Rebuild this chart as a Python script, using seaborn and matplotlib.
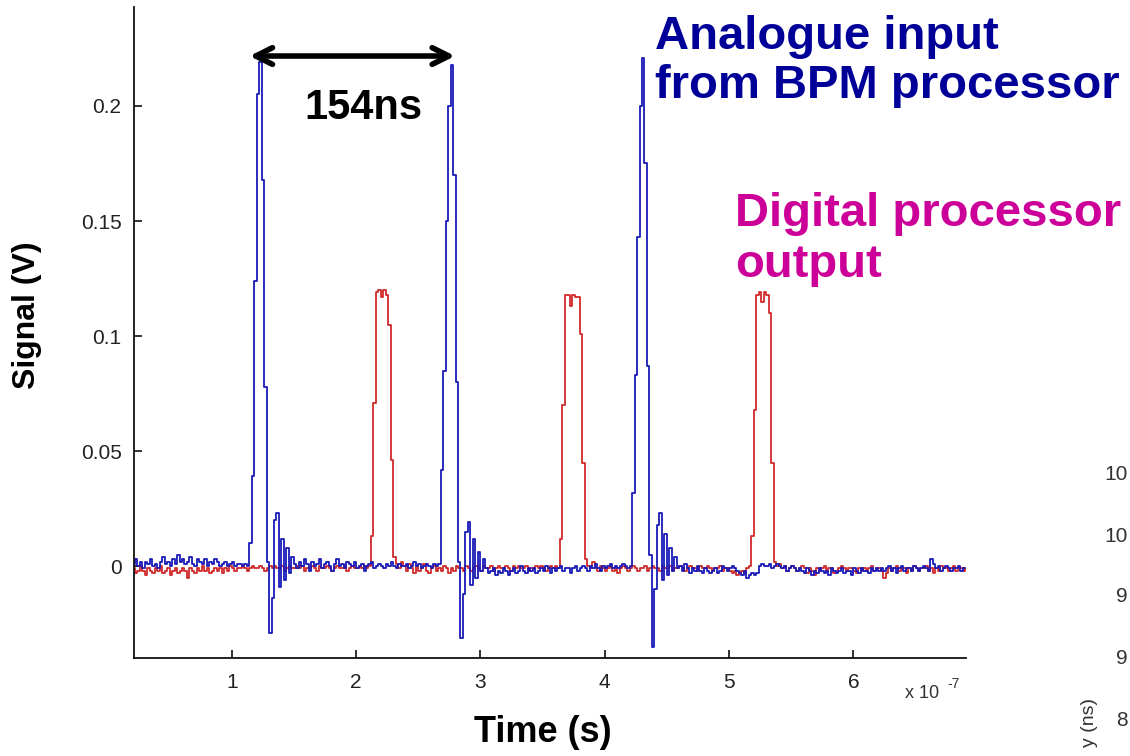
import numpy as np
import pandas as pd
import matplotlib
matplotlib.use("Agg")
import matplotlib.pyplot as plt
from matplotlib.ticker import FuncFormatter
import seaborn as sns


# ── Data ─────────────────────────────────────────────────────────────────────
# every trace is sampled every 2 ns; each segment = (start time in ns, values in mV)
SAMPLE_NS = 2

blue_base_a = [1, 3, 0, 2, -1, 2, 1, 3, 0, 1, -1, 2, 4, 1, 2, 0, 3, 1, 5, 2,
               3, 1, 2, 4, 1, 0, 3, 2, 1, 3, 0, 2, 1, 3, 2, 0, 1, 2, 0, 1,
               2, 0, 1, 1, 0, 1, 0]
blue_pulse_1 = [10, 39, 124, 205, 219, 168, 78, 2, -29, -14, 20, 23, -9, 12, -6, 8, -3, 4]
blue_base_b = [1, -1, 2, 0, 3, 1, -2, 2, 0, 1, 3, -1, 1, 2, 0, -2, 1, 3, 0, 1,
               -1, 2, 1, 0, 2, -1, 0, 1, -2, 0, 1, 2, -1, 0, 1, 0, -1, 1, 0, 2,
               0, -1, 1, 0, 0, 1, -1, 0, 2, 0, 1, -1, 0, 1, 0, -1, 1, 0, 1]
blue_pulse_2 = [42, 85, 150, 200, 218, 170, 80, 2, -31, -12, 15, 19, -8, 12, -5, 6, -2, 3]
blue_base_c = [-1, -3, -2, -1, -4, -2, -3, -1, -2, -4, -2, -1, -3, -2, 0, -2, -3, -1, -2, -1,
               -3, -2, -1, -2, 0, -1, -3, -1, -2, -1, 0, -2, -1, -1, -3, -1, 0, -2, -1, 0,
               -1, -2, 0, -1, 1, -1, -2, 0, -1, 0, 1, -1, 0, -1, 0, 1, 0, -1, 0]
blue_pulse_3 = [32, 83, 143, 200, 221, 175, 87, 5, -35, -10, 18, 23, -6, 14, -4, 8, -2, 4]
blue_base_d = [-1, 0, -2, 1, -1, -3, -1, -2, 0, -2, -3, -1, -2, -3, -2, -1, -3, -2, 0, -1,
               -2, -1, 0, -1, -2, -3, -4, -2, -5, -4, -3, -4, -3, 0, 1, 0, 0, 1, -1, 0,
               1, 0, -1, 0, -2, -1, 0, -1, -2, -1, -2, -3, -1, -2, -4, -2, -3, -1, -2, -3,
               -2, -4, -1, -2, -3, -2, -1, -3, -2, -2, -4, -1, -2, -3, -1, -2, -2, -3, -1, -2,
               -1, -2, -1, -2, -1, 0, -2, -1, -3, -1, 0, -2, -1, -1, -2, 0, -1, -2, -1, 0,
               -1, -2, 3, 1, -1, 0, -2, -1, 0, -1, -2, -1, -1, 0, -2, -1, -1]

red_base_a = [-1, -3, -2, 0, -2, -4, -1, -2, -3, -1, -2, 0, -3, -2, -1, -4, -2, -1, -3, -2,
              -1, -2, -5, -1, -2, -3, -1, -2, 0, -2, -1, -3, -2, -1, -2, -1, -3, -1, -2, 0,
              -1, -2, -1, -1, 0, -1, -2, -1, 0, -1, -1, 0, -1, -2, -1, 0, -1, 0, -1, -1,
              0, -2, -1, 0, -1, -1, 0, -1, 0, -2, -1, -1, 0, -1, -2, 0, -1, -1, 0, -1,
              -2, -1, 0, -1, -1, 0, -2, -1, 0, -1, -1, 0, -1, 0, -1, 0]
red_pulse_1 = [13, 71, 119, 120, 117, 120, 118, 105, 46, 4]
red_base_b = [1, -1, 2, 0, -2, 1, -1, -3, 0, -2, -1, 1, -2, -3, -1, 0, -2, -1, -2, 0,
              -1, -3, -1, -2, 0, -1, -1, -2, 0, -1, -2, -1, 0, -1, -2, 0, -1, -1, 0, -2,
              -1, 0, -1, -1, 0, -1, -2, 0, -1, 0, -1, -1, 0, -2, -1, -1, 0, -1, 0, -1,
              -2, -1, 0, -1, 0, -1]
red_pulse_2 = [12, 70, 118, 118, 113, 118, 117, 117, 101, 45, 3]
red_base_c = [0, -1, 2, -1, -2, 0, -1, -2, -1, 0, -2, -1, -3, -1, 0, -1, -2, -1, 0, -1,
              -2, -1, -1, 0, -2, -1, 0, -1, -1, -2, 0, -1, -1, 0, -2, -1, -1, 0, -1, -2,
              -1, 0, -1, -1, -2, 0, -1, -1, 0, -1, -2, -1, -1, 0, -2, -1, -1, -2, -3, -2,
              -4, -3, -2, -3, -1, 0]
red_pulse_3 = [13, 68, 118, 119, 115, 119, 118, 110, 45, 2]
red_base_d = [0, 1, -1, 0, -2, -1, 0, -1, -2, -1, 0, -1, -3, -1, -2, -4, -1, -2, -1, 0,
              -2, -1, -1, -3, -2, -1, 0, -1, -2, -1, -1, -2, -3, -1, -2, -1, -2, -1, 0, -2,
              -1, -1, -2, -5, -3, -1, -2, -1, 0, -2, -1, -1, -3, -1, -2, 0, -1, -2, -1, -1,
              0, -2, -1, -3, -1, -2, 0, -1, -1, -2, -1, 0, -2, -1, -1, -2, -1]

blue_segments = [(20, blue_base_a), (114, blue_pulse_1), (150, blue_base_b),
                 (268, blue_pulse_2), (304, blue_base_c), (422, blue_pulse_3),
                 (458, blue_base_d)]
red_segments = [(20, red_base_a), (212, red_pulse_1), (232, red_base_b),
                (364, red_pulse_2), (386, red_base_c), (518, red_pulse_3),
                (538, red_base_d)]

x_ticks = [1e-7, 2e-7, 3e-7, 4e-7, 5e-7, 6e-7]
y_ticks = [0, 0.05, 0.1, 0.15, 0.2]

# visible fragments of the neighbouring panel's axis, cut by the slide edge
side_labels = ["10", "10", "9", "9", "8"]

ANALOGUE = "Analogue input"
DIGITAL = "Digital processor output"


def build_trace(segments, name):
    rows = []
    for start, values in segments:
        for k, v in enumerate(values):
            rows.append({"time": (start + SAMPLE_NS * k) * 1e-9,
                         "signal": v / 1000.0,
                         "trace": name})
    return rows


df = pd.DataFrame(build_trace(red_segments, DIGITAL) + build_trace(blue_segments, ANALOGUE))

# ── Plot ─────────────────────────────────────────────────────────────────────
sns.set_theme(style="ticks")
plt.rcParams["font.family"] = ["Liberation Sans", "DejaVu Sans"]
plt.rcParams["text.color"] = "black"

W, H = 1130, 756
fig = plt.figure(figsize=(W / 100, H / 100), dpi=100)
ax = fig.add_axes([134 / W, 1 - 658 / H, (966 - 134) / W, (658 - 7) / H])

sns.lineplot(data=df, x="time", y="signal", hue="trace",
             hue_order=[DIGITAL, ANALOGUE],
             palette={DIGITAL: "#d02a2a", ANALOGUE: "#1a1ab8"},
             estimator=None, sort=False, drawstyle="steps-post",
             linewidth=1.3, legend=False, ax=ax)

ax.set_xlim(0.214e-7, 6.906e-7)
ax.set_ylim(-0.0399, 0.243)
ax.set_xticks(x_ticks)
ax.set_yticks(y_ticks)
ax.xaxis.set_major_formatter(FuncFormatter(lambda v, p: f"{v * 1e7:g}"))
ax.yaxis.set_major_formatter(FuncFormatter(lambda v, p: f"{v:g}"))
ax.tick_params(axis="both", direction="in", length=6, width=1.2,
               labelsize=15, labelcolor="#222222", color="#111111")
ax.tick_params(axis="x", pad=11)
ax.tick_params(axis="y", pad=9)
ax.set_xlabel("")
ax.set_ylabel("")
for side in ["left", "bottom"]:
    ax.spines[side].set_linewidth(1.3)
    ax.spines[side].set_color("#111111")
sns.despine(ax=ax)

# MATLAB-style exponent under the x axis
fig.text(922 / W, 1 - 693 / H, "x 10", fontsize=13, color="#333333", ha="center", va="center")
fig.text(954 / W, 1 - 684 / H, "-7", fontsize=10, color="#333333", ha="center", va="center")

# axis labels
fig.text(543 / W, 1 - 733 / H, "Time (s)", fontsize=26, fontweight="bold",
         color="black", ha="center", va="center")
fig.text(27 / W, 1 - 315 / H, "Signal (V)", fontsize=23, fontweight="bold",
         color="black", rotation=90, ha="center", va="center")

# 154 ns spacing between analogue peaks
ax.annotate("", xy=(1.144e-7, 0.2217), xytext=(2.796e-7, 0.2217),
            arrowprops=dict(arrowstyle="<->", color="black", lw=4, mutation_scale=30,
                            shrinkA=0, shrinkB=0))
fig.text(363 / W, 1 - 108 / H, "154ns", fontsize=30, fontweight="bold",
         color="black", ha="center", va="center")

# callouts
fig.text(655 / W, 1 - 15 / H, "Analogue input\nfrom BPM processor", fontsize=34,
         fontweight="bold", color="#000099", ha="left", va="top", linespacing=1.15)
fig.text(735 / W, 1 - 192 / H, "Digital processor\noutput", fontsize=34,
         fontweight="bold", color="#cc0099", ha="left", va="top", linespacing=1.2)

# edge of the neighbouring panel
for label, xpx, ypx in zip(side_labels, [1104, 1104, 1116, 1116, 1116], [475, 537, 597, 658, 720]):
    fig.text(xpx / W, 1 - ypx / H, label, fontsize=15, color="#333333", ha="left", va="center")
fig.text(1089 / W, 1 - 698 / H, "y (ns)", fontsize=14, color="#333333",
         rotation=90, ha="center", va="top")

fig.savefig("out.png", dpi=100)
